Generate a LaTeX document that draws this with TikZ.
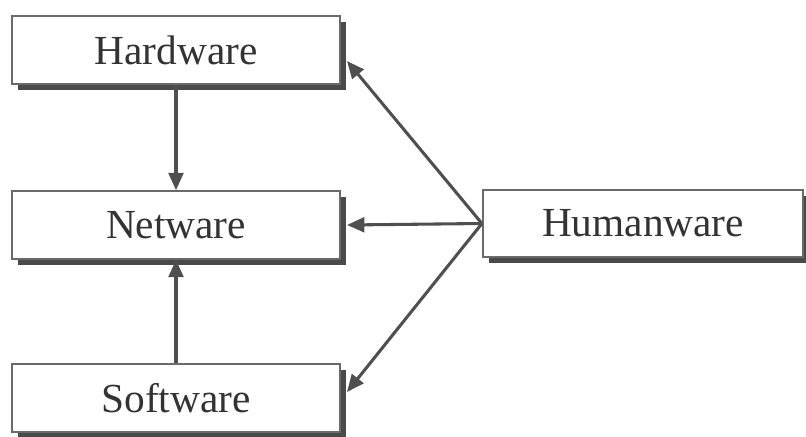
\documentclass[tikz,border=0pt]{standalone}
\usepackage{fontspec}
\setmainfont{Liberation Serif}
\usetikzlibrary{shadows,arrows.meta}
\definecolor{boxline}{HTML}{6A6A6A}
\definecolor{shadowc}{HTML}{4A4A4A}
\definecolor{arrowc}{HTML}{4F4F4F}
\definecolor{textc}{HTML}{333333}
\tikzset{
  wbox/.style={draw=boxline, line width=1.6pt, fill=white, minimum width=246pt, minimum height=50.5pt,
    inner sep=0pt, text=textc, font=\fontsize{31}{36}\selectfont,
    drop shadow={shadow xshift=4.5pt, shadow yshift=-4.5pt, fill=shadowc, opacity=1}},
  conn/.style={draw=arrowc, line width=2.3pt, -{Triangle[length=13pt,width=11pt]}}
}
\begin{document}
\begin{tikzpicture}[x=0.75pt,y=-0.75pt]
\useasboundingbox (0,0) rectangle (806,436);
\clip (0,0) rectangle (806,436);
\node[wbox] (hw) at (176,50) {Hardware};
\node[wbox] (nw) at (176,225) {Netware};
\node[wbox] (sw) at (176,398) {Software};
\node[wbox, minimum width=240pt] (hu) at (643,223.5) {Humanware};
\coordinate (hwin) at (347,61);
\coordinate (nwin) at (347,225);
\coordinate (swin) at (347,392);
\draw[conn] (hw.south) -- (nw.north);
\draw[conn] (sw.north) -- (nw.south);
\draw[conn] (hu.west) -- (hwin);
\draw[conn] (hu.west) -- (nwin);
\draw[conn] (hu.west) -- (swin);
\end{tikzpicture}
\end{document}
